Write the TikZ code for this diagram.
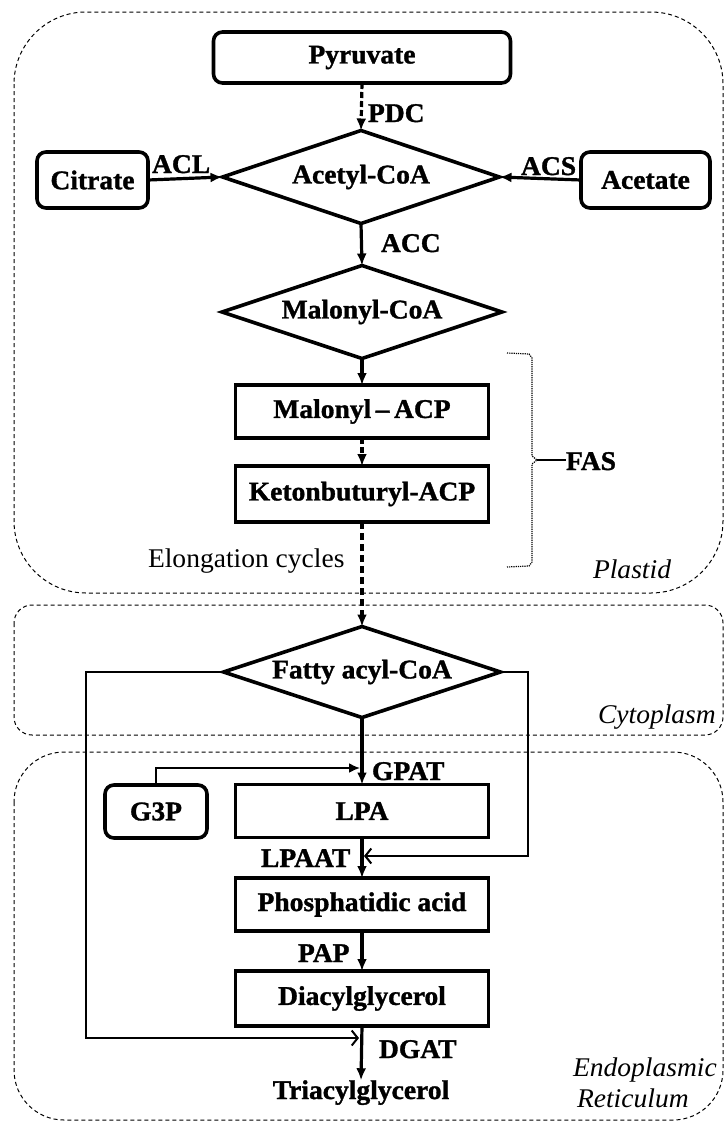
\documentclass[tikz,border=0pt]{standalone}
\usepackage{fontspec}
\setmainfont[FakeStretch=1.02, BoldFeatures={FakeBold=1.2}]{Liberation Serif}
\usetikzlibrary{shapes.geometric,arrows.meta}
\begin{document}
\begin{tikzpicture}[x=1pt,y=-1pt,
  every node/.style={font=\fontsize{27}{30}\selectfont\bfseries, inner sep=0pt, outer sep=0pt},
  box/.style={draw, line width=3.6pt, minimum width=253pt, minimum height=53pt},
  rbox/.style={draw, line width=3.6pt, rounded corners=9pt},
  dia/.style={draw, diamond, line width=3.6pt, aspect=3, minimum width=277pt, minimum height=93pt},
  lbl/.style={anchor=base west},
  reg/.style={font=\fontsize{27}{30}\selectfont\mdseries},
  ital/.style={font=\fontsize{27}{30}\selectfont\mdseries\itshape, anchor=base west},
  arr/.style={line width=3.2pt, -{Latex[length=12pt,width=10pt]}},
  darr/.style={arr, dash pattern=on 6pt off 3pt},
  conn/.style={line width=2pt},
  region/.style={line width=1pt, dash pattern=on 4pt off 3pt},
]
\useasboundingbox (0,0) rectangle (725,1122);

% compartments
\draw[region, rounded corners=72pt] (14,12) rectangle (723,593);
\draw[region, rounded corners=18pt] (14,605) rectangle (723,735);
\draw[region, rounded corners=50pt] (14,752) rectangle (723,1120);

% nodes
\node[rbox, minimum width=297pt, minimum height=51pt] (pyr) at (362,57.5) {Pyruvate};
\node[dia] (acoa) at (361,177) {Acetyl-CoA};
\node[rbox, minimum width=111pt, minimum height=56pt] (cit) at (92.5,180) {Citrate};
\node[rbox, minimum width=129pt, minimum height=56pt] (ace) at (645.5,180) {Acetate};
\node[dia, minimum width=280pt] (mcoa) at (362,312) {Malonyl-CoA};
\node[box] (macp) at (362,411.5) {Malonyl\,--\,ACP};
\node[box, minimum height=56pt] (kacp) at (362,494) {Ketonbuturyl-ACP};
\node[dia, minimum height=91pt] (fcoa) at (362,672) {Fatty acyl-CoA};
\node[rbox, minimum width=102pt, minimum height=53pt] (g3p) at (156,811.5) {G3P};
\node[box] (lpa) at (362,811) {LPA};
\node[box] (pa) at (362,904.5) {Phosphatidic acid};
\node[box, minimum height=55pt] (dag) at (362,998.5) {Diacylglycerol};
\node[anchor=base] (tag) at (361,1099) {Triacylglycerol};

% main arrows
\draw[darr] (pyr.south) -- (acoa.north);
\draw[arr] (cit.east) -- (acoa.west);
\draw[arr] (ace.west) -- (acoa.east);
\draw[arr] (acoa.south) -- (mcoa.north);
\draw[arr] (mcoa.south) -- (macp.north);
\draw[darr] (macp.south) -- (kacp.north);
\draw[arr, dash pattern=on 7pt off 4pt] (kacp.south) -- (fcoa.north);
\draw[arr] (fcoa.south) -- (lpa.north);
\draw[arr] (lpa.south) -- (pa.north);
\draw[arr] (pa.south) -- (dag.north);
\draw[arr] (dag.south) -- (tag.north);

% side connectors
\coordinate (gj) at (360,768);
\coordinate (lj) at (364,856);
\coordinate (dj) at (359,1038);
\draw[conn, -{Latex[length=11pt,width=10pt]}] (g3p.north) |- (gj);
\draw[conn, -{Straight Barb[length=6pt,width=15pt]}] (fcoa.east) -- ++(27,0) |- (lj);
\draw[conn, -{Straight Barb[length=6pt,width=15pt]}] (fcoa.west) -- ++(-138,0) |- (dj);

% FAS bracket
\coordinate (fastip) at (537,460);
\draw[line width=1.2pt, densely dotted] (507,353) -- (529,354) -- (532,358) -- (532,456) -- (fastip) -- (532,464) -- (532,562) -- (529,566) -- (507,567);
\node[lbl] (fas) at (566,470) {FAS};
\draw[line width=1.6pt] (fastip) -- (fas.west |- fastip);

% labels
\node[lbl] (pdc) at (368,122) {PDC};
\node[lbl] (acl) at (152,173) {ACL};
\node[lbl] (acs) at (521,175) {ACS};
\node[lbl] (acc) at (381,252) {ACC};
\node[reg, anchor=base west] (elo) at (148,567) {Elongation cycles};
\node[ital] (plas) at (593,578) {Plastid};
\node[ital] (cyto) at (598,723) {Cytoplasm};
\node[lbl] (gpat) at (372,780) {GPAT};
\node[lbl] (lpaat) at (261,867) {LPAAT};
\node[lbl] (pap) at (298,962) {PAP};
\node[lbl] (dgat) at (379,1058) {DGAT};
\node[ital] (endo) at (573,1076) {Endoplasmic};
\node[ital] (reti) at (577,1107) {Reticulum};
\end{tikzpicture}
\end{document}
